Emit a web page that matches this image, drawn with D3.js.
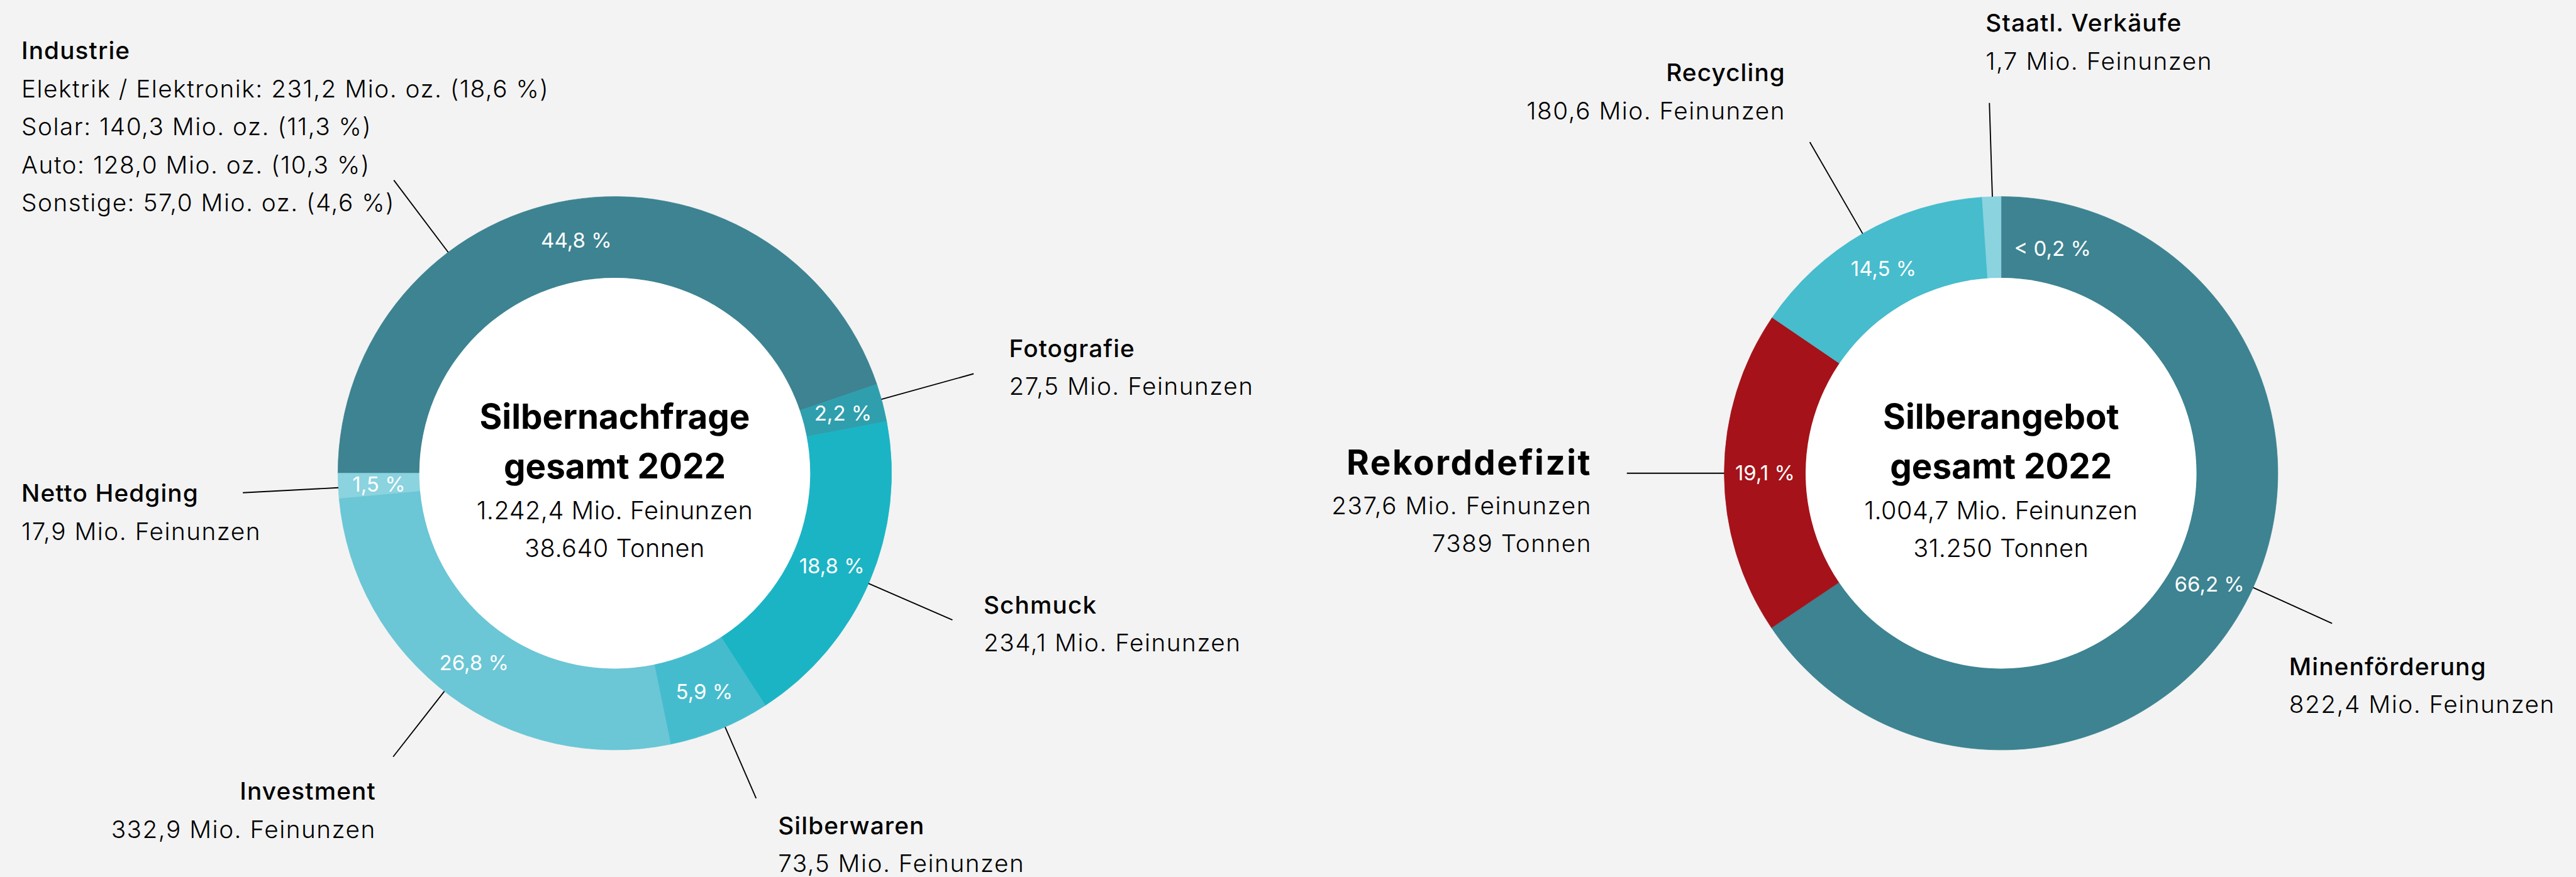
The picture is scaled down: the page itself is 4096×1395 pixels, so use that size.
<!DOCTYPE html>
<html>
<head>
<meta charset="utf-8">
<script src="https://cdn.jsdelivr.net/npm/d3@7"></script>
<style>
  html, body { margin: 0; padding: 0; background: #f3f3f3; }
  svg { display: block; font-family: Inter, "Noto Sans", sans-serif; }
</style>
</head>
<body>
<div id="chart-area"></div>
<script>
// Nachfrage
const demandCats = ["Industrie", "Fotografie", "Schmuck", "Silberwaren", "Investment", "Netto Hedging"];
const demandValues = [556.5, 27.5, 234.1, 73.5, 332.9, 17.9];
const demandPct = [44.8, 2.2, 18.8, 5.9, 26.8, 1.5];
const demandTotal = 1242.4;
const demandTonnes = 38640;

// Industrie aufgeschluesselt
const industrieCats = ["Elektrik / Elektronik", "Solar", "Auto", "Sonstige"];
const industrieValues = [231.2, 140.3, 128.0, 57.0];
const industriePct = [18.6, 11.3, 10.3, 4.6];

// Angebot
const supplyCats = ["Minenförderung", "Rekorddefizit", "Recycling", "Staatl. Verkäufe"];
const supplyValues = [822.4, 237.6, 180.6, 1.7];
const supplyPct = [66.2, 19.1, 14.5, 0.2];
const supplyTotal = 1004.7;
const supplyTonnes = 31250;
const deficitTonnes = 7389;

const de = d3.formatLocale({ decimal: ",", thousands: ".", grouping: [3], currency: ["", " €"] });
const f1 = de.format(",.1f");
const fInt = de.format(",d");
const fPct = v => de.format(".1f")(v) + " %";

const W = 4337, H = 1477;
const R = 466, r0 = 329;

const svg = d3.select("#chart-area")
    .append("svg")
    .attr("width", 4096)
    .attr("height", 1395)
    .attr("viewBox", `0 0 ${W} ${H}`);

svg.append("rect").attr("width", W).attr("height", H).attr("fill", "#f3f3f3");

const arc = d3.arc().innerRadius(r0).outerRadius(R);
const labelArc = d3.arc().innerRadius((R + r0) / 2).outerRadius((R + r0) / 2);
const rad = a => a * Math.PI / 180;
const polar = (a, r) => [r * Math.sin(rad(a)), -r * Math.cos(rad(a))];

function drawDonut(cx, cy, values, colors, startDeg, minShare) {
    const g = svg.append("g").attr("transform", `translate(${cx}, ${cy})`);
    const sum = d3.sum(values);
    const pie = d3.pie()
        .sort(null)
        .value(d => Math.max(d, sum * minShare))
        .startAngle(rad(startDeg))
        .endAngle(rad(startDeg + 360));
    const arcs = pie(values);
    g.selectAll("path")
        .data(arcs)
        .enter()
        .append("path")
        .attr("d", arc)
        .attr("fill", (d, i) => colors[i])
        .attr("stroke", (d, i) => colors[i])
        .attr("stroke-width", 0.8);
    g.append("circle").attr("r", r0).attr("fill", "#ffffff");
    return { g, arcs };
}

function leader(g, angle, rEnd) {
    const [x1, y1] = polar(angle, R);
    const [x2, y2] = polar(angle, rEnd);
    g.append("line")
        .attr("x1", x1).attr("y1", y1)
        .attr("x2", x2).attr("y2", y2)
        .attr("stroke", "#000")
        .attr("stroke-width", 2);
}

function label(x, y, anchor, lines, opts = {}) {
    const t = svg.append("text")
        .attr("x", x)
        .attr("y", y)
        .attr("text-anchor", anchor)
        .attr("fill", "#000");
    lines.forEach((s, i) => {
        t.append("tspan")
            .attr("x", x)
            .attr("dy", i === 0 ? 0 : (i === 1 ? (opts.firstGap || 64) : 64))
            .attr("font-size", i === 0 ? (opts.titleSize || 41) : 41)
            .attr("font-weight", i === 0 ? (opts.titleWeight || 450) : 300)
            .attr("letter-spacing", i === 0 ? (opts.titleSpacing || 1.2) : 1.6)
            .text(s);
    });
}

function centerText(g, title1, title2, sub1, sub2) {
    [[title1, -75], [title2, 9]].forEach(([s, y]) => {
        g.append("text").attr("y", y).attr("text-anchor", "middle")
            .attr("font-size", 58).attr("font-weight", 700).text(s);
    });
    [[sub1, 78], [sub2, 141]].forEach(([s, y]) => {
        g.append("text").attr("y", y).attr("text-anchor", "middle")
            .attr("font-size", 42).attr("font-weight", 300)
            .attr("letter-spacing", 0.5).text(s);
    });
}

function pctLabels(g, arcs, pct, skipLast) {
    arcs.forEach((d, i) => {
        if (skipLast && i === arcs.length - 1) return;
        const [x, y] = labelArc.centroid(d);
        g.append("text")
            .attr("x", x).attr("y", y)
            .attr("text-anchor", "middle")
            .attr("dominant-baseline", "central")
            .attr("fill", "#fff")
            .attr("font-size", 35)
            .attr("font-weight", 400)
            .text(fPct(pct[i]));
    });
}

// ---------- Nachfrage ----------
const demandColors = ["#3d8391", "#2f9fae", "#1bb4c4", "#45bccd", "#6bc6d5", "#8ad3df"];
const dem = drawDonut(1035, 797, demandValues, demandColors, 270, 0);
pctLabels(dem.g, dem.arcs, demandPct, false);
centerText(dem.g, "Silbernachfrage", "gesamt 2022",
    f1(demandTotal) + " Mio. Feinunzen", fInt(demandTonnes) + " Tonnen");

leader(dem.g, 323, 618);
leader(dem.g, 74.5, 627);
leader(dem.g, 113.5, 620);
leader(dem.g, 156.5, 597);
leader(dem.g, 218, 606);
leader(dem.g, 267, 627);

const unit = " Mio. Feinunzen";
label(36, 99, "start", [demandCats[0]].concat(
    industrieCats.map((c, i) => `${c}: ${f1(industrieValues[i])} Mio. oz. (${fPct(industriePct[i])})`)),
    { firstGap: 65 });
label(1699, 601, "start", [demandCats[1], f1(demandValues[1]) + unit]);
label(1656, 1033, "start", [demandCats[2], f1(demandValues[2]) + unit]);
label(1310, 1405, "start", [demandCats[3], f1(demandValues[3]) + unit]);
label(633, 1347, "end", [demandCats[4], f1(demandValues[4]) + unit]);
label(36, 845, "start", [demandCats[5], f1(demandValues[5]) + unit]);

// ---------- Angebot ----------
const supplyColors = ["#3d8391", "#a51219", "#46bccd", "#8ad3df"];
const sup = drawDonut(3369, 797, supplyValues, supplyColors, 0, 0.011);
pctLabels(sup.g, sup.arcs, supplyPct, true);
// kleiner Anteil: Beschriftung rechts neben dem Segment
const [sx, sy] = polar(3.3, 379);
sup.g.append("text")
    .attr("x", sx).attr("y", sy)
    .attr("text-anchor", "start")
    .attr("dominant-baseline", "central")
    .attr("fill", "#fff")
    .attr("font-size", 35)
    .text("< " + fPct(supplyPct[3]));

centerText(sup.g, "Silberangebot", "gesamt 2022",
    f1(supplyTotal) + " Mio. Feinunzen", fInt(supplyTonnes) + " Tonnen");

leader(sup.g, 114.4, 612);
leader(sup.g, 270, 630);
leader(sup.g, 330, 644);
leader(sup.g, 358.2, 624);

label(3854, 1137, "start", [supplyCats[0], f1(supplyValues[0]) + unit]);
label(2680, 799, "end", [supplyCats[1], f1(supplyValues[1]) + unit, d3.format("d")(deficitTonnes) + " Tonnen"],
    { titleSize: 58, titleWeight: 700, titleSpacing: 2.6, firstGap: 67 });
label(3006, 137, "end", [supplyCats[2], f1(supplyValues[2]) + unit]);
label(3343, 53, "start", [supplyCats[3], f1(supplyValues[3]) + unit]);
</script>
</body>
</html>
